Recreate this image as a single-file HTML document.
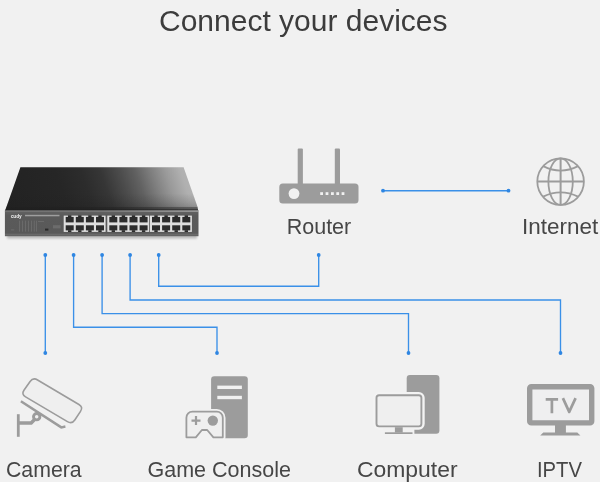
<!DOCTYPE html>
<html>
<head>
<meta charset="utf-8">
<title>Connect your devices</title>
<style>
html,body{margin:0;padding:0;}
body{width:600px;height:482px;overflow:hidden;background:#f1f1f1;font-family:"Liberation Sans",sans-serif;position:relative;}
#stage{position:absolute;left:0;top:0;width:600px;height:482px;overflow:hidden;background:#f1f1f1;filter:blur(0.45px);}
.t{position:absolute;white-space:nowrap;color:#464646;line-height:1;transform-origin:0 0;}
#title{left:159px;top:5.6px;font-size:30px;color:#3c3c3c;}
.lbl{font-size:21.5px;}
svg{position:absolute;left:0;top:0;}
</style>
</head>
<body>
<div id="stage">
<svg id="art" width="600" height="482" viewBox="0 0 600 482">
  <defs>
    <linearGradient id="topg" gradientUnits="userSpaceOnUse" x1="5" y1="210" x2="195" y2="143.5">
      <stop offset="0" stop-color="#222"/>
      <stop offset="0.3" stop-color="#262626"/>
      <stop offset="0.42" stop-color="#2c2c2c"/>
      <stop offset="0.511" stop-color="#363636"/>
      <stop offset="0.605" stop-color="#4d4d4d"/>
      <stop offset="0.675" stop-color="#616161"/>
      <stop offset="0.745" stop-color="#7e7e7e"/>
      <stop offset="0.816" stop-color="#9a9a9a"/>
      <stop offset="0.886" stop-color="#b0b0b0"/>
      <stop offset="0.93" stop-color="#b4b4b4"/>
      <stop offset="1" stop-color="#b0b0b0"/>
    </linearGradient>
    <linearGradient id="topv" gradientUnits="userSpaceOnUse" x1="0" y1="167.4" x2="0" y2="210.8">
      <stop offset="0" stop-color="#1e1e1e" stop-opacity="0"/>
      <stop offset="0.6" stop-color="#1e1e1e" stop-opacity="0"/>
      <stop offset="0.8" stop-color="#1e1e1e" stop-opacity="0.13"/>
      <stop offset="0.9" stop-color="#1e1e1e" stop-opacity="0.22"/>
      <stop offset="0.915" stop-color="#1e1e1e" stop-opacity="0.55"/>
      <stop offset="0.96" stop-color="#1e1e1e" stop-opacity="0.6"/>
      <stop offset="0.975" stop-color="#1e1e1e" stop-opacity="0.88"/>
      <stop offset="1" stop-color="#1e1e1e" stop-opacity="0.88"/>
    </linearGradient>
    <linearGradient id="fronth" gradientUnits="userSpaceOnUse" x1="5" y1="0" x2="198" y2="0">
      <stop offset="0" stop-color="#747474"/>
      <stop offset="0.5" stop-color="#7c7c7c"/>
      <stop offset="0.8" stop-color="#a0a0a0"/>
      <stop offset="1" stop-color="#b0b0b0"/>
    </linearGradient>
    <linearGradient id="frontg" x1="0" y1="0" x2="0" y2="1">
      <stop offset="0" stop-color="#7a7a7a"/>
      <stop offset="0.07" stop-color="#606060"/>
      <stop offset="0.2" stop-color="#5a5a5a"/>
      <stop offset="0.88" stop-color="#595959"/>
      <stop offset="0.93" stop-color="#6a6a6a"/>
      <stop offset="1" stop-color="#5e5e5e"/>
    </linearGradient>
    <filter id="blur1" x="-10%" y="-50%" width="120%" height="200%"><feGaussianBlur stdDeviation="1.2"/></filter>
  </defs>

  <!-- connection lines -->
  <g fill="none" stroke="#3a90e8" stroke-width="1.35" stroke-linejoin="miter">
    <path d="M45.3 255V353"/>
    <path d="M73.6 255V327.2H217V353"/>
    <path d="M102.1 255V313.6H408.5V353"/>
    <path d="M130.1 255V300H560.5V353"/>
    <path d="M158.7 255V286.2H318.7V255"/>
    <path d="M383 190.7H508.5"/>
  </g>
  <g fill="#2f86e2">
    <circle cx="45.3" cy="255" r="1.9"/><circle cx="73.6" cy="255" r="1.9"/><circle cx="102.1" cy="255" r="1.9"/><circle cx="130.1" cy="255" r="1.9"/><circle cx="158.7" cy="255" r="1.9"/>
    <circle cx="318.7" cy="255" r="1.9"/>
    <circle cx="45.3" cy="353" r="1.9"/><circle cx="217" cy="353" r="1.9"/><circle cx="408.5" cy="353" r="1.9"/><circle cx="560.5" cy="353" r="1.9"/>
    <circle cx="383" cy="190.7" r="1.9"/><circle cx="508.5" cy="190.7" r="1.9"/>
  </g>

  <!-- switch -->
  <g id="switch">
    <rect x="7" y="234" width="190" height="4.6" fill="#000" opacity="0.22" filter="url(#blur1)"/>
    <path d="M20.4 167.3H183.6L197.4 206.6L198.3 211H5Z" fill="url(#topg)"/>
    <path d="M20.4 167.3H183.6L197.4 206.6L198.3 211H5Z" fill="url(#topv)"/>
    <rect x="4.9" y="210.6" width="193.6" height="25.6" fill="url(#frontg)"/>
    <rect x="4.9" y="210.5" width="193.6" height="1.1" fill="url(#fronth)"/>
    <g id="ports">
    <rect x="63.7" y="215.6" width="41.9" height="16.3" fill="#dedede"/>
    <rect x="65.70" y="216.9" width="8.0" height="5.5" fill="#2c2c2c"/>
    <rect x="68.00" y="215.3" width="3.4" height="2" fill="#2c2c2c"/>
    <rect x="65.70" y="225.3" width="8.0" height="5.1" fill="#2c2c2c"/>
    <rect x="68.00" y="230.2" width="3.4" height="1.8" fill="#2c2c2c"/>
    <rect x="75.80" y="216.9" width="8.0" height="5.5" fill="#2c2c2c"/>
    <rect x="78.10" y="215.3" width="3.4" height="2" fill="#2c2c2c"/>
    <rect x="75.80" y="225.3" width="8.0" height="5.1" fill="#2c2c2c"/>
    <rect x="78.10" y="230.2" width="3.4" height="1.8" fill="#2c2c2c"/>
    <rect x="85.90" y="216.9" width="8.0" height="5.5" fill="#2c2c2c"/>
    <rect x="88.20" y="215.3" width="3.4" height="2" fill="#2c2c2c"/>
    <rect x="85.90" y="225.3" width="8.0" height="5.1" fill="#2c2c2c"/>
    <rect x="88.20" y="230.2" width="3.4" height="1.8" fill="#2c2c2c"/>
    <rect x="96.00" y="216.9" width="8.0" height="5.5" fill="#2c2c2c"/>
    <rect x="98.30" y="215.3" width="3.4" height="2" fill="#2c2c2c"/>
    <rect x="96.00" y="225.3" width="8.0" height="5.1" fill="#2c2c2c"/>
    <rect x="98.30" y="230.2" width="3.4" height="1.8" fill="#2c2c2c"/>
    <rect x="107.3" y="215.6" width="41.9" height="16.3" fill="#dedede"/>
    <rect x="109.30" y="216.9" width="8.0" height="5.5" fill="#2c2c2c"/>
    <rect x="111.60" y="215.3" width="3.4" height="2" fill="#2c2c2c"/>
    <rect x="109.30" y="225.3" width="8.0" height="5.1" fill="#2c2c2c"/>
    <rect x="111.60" y="230.2" width="3.4" height="1.8" fill="#2c2c2c"/>
    <rect x="119.40" y="216.9" width="8.0" height="5.5" fill="#2c2c2c"/>
    <rect x="121.70" y="215.3" width="3.4" height="2" fill="#2c2c2c"/>
    <rect x="119.40" y="225.3" width="8.0" height="5.1" fill="#2c2c2c"/>
    <rect x="121.70" y="230.2" width="3.4" height="1.8" fill="#2c2c2c"/>
    <rect x="129.50" y="216.9" width="8.0" height="5.5" fill="#2c2c2c"/>
    <rect x="131.80" y="215.3" width="3.4" height="2" fill="#2c2c2c"/>
    <rect x="129.50" y="225.3" width="8.0" height="5.1" fill="#2c2c2c"/>
    <rect x="131.80" y="230.2" width="3.4" height="1.8" fill="#2c2c2c"/>
    <rect x="139.60" y="216.9" width="8.0" height="5.5" fill="#2c2c2c"/>
    <rect x="141.90" y="215.3" width="3.4" height="2" fill="#2c2c2c"/>
    <rect x="139.60" y="225.3" width="8.0" height="5.1" fill="#2c2c2c"/>
    <rect x="141.90" y="230.2" width="3.4" height="1.8" fill="#2c2c2c"/>
    <rect x="150.0" y="215.6" width="41.9" height="16.3" fill="#dedede"/>
    <rect x="152.00" y="216.9" width="8.0" height="5.5" fill="#2c2c2c"/>
    <rect x="154.30" y="215.3" width="3.4" height="2" fill="#2c2c2c"/>
    <rect x="152.00" y="225.3" width="8.0" height="5.1" fill="#2c2c2c"/>
    <rect x="154.30" y="230.2" width="3.4" height="1.8" fill="#2c2c2c"/>
    <rect x="162.10" y="216.9" width="8.0" height="5.5" fill="#2c2c2c"/>
    <rect x="164.40" y="215.3" width="3.4" height="2" fill="#2c2c2c"/>
    <rect x="162.10" y="225.3" width="8.0" height="5.1" fill="#2c2c2c"/>
    <rect x="164.40" y="230.2" width="3.4" height="1.8" fill="#2c2c2c"/>
    <rect x="172.20" y="216.9" width="8.0" height="5.5" fill="#2c2c2c"/>
    <rect x="174.50" y="215.3" width="3.4" height="2" fill="#2c2c2c"/>
    <rect x="172.20" y="225.3" width="8.0" height="5.1" fill="#2c2c2c"/>
    <rect x="174.50" y="230.2" width="3.4" height="1.8" fill="#2c2c2c"/>
    <rect x="182.30" y="216.9" width="8.0" height="5.5" fill="#2c2c2c"/>
    <rect x="184.60" y="215.3" width="3.4" height="2" fill="#2c2c2c"/>
    <rect x="182.30" y="225.3" width="8.0" height="5.1" fill="#2c2c2c"/>
    <rect x="184.60" y="230.2" width="3.4" height="1.8" fill="#2c2c2c"/>
    </g>
    <!-- logo + tiny text -->
    <text x="10.8" y="218.4" font-family="Liberation Sans, sans-serif" font-size="4.8" font-weight="bold" fill="#f0f0f0" letter-spacing="-0.1">cudy</text>
    <rect x="25" y="214.8" width="34.5" height="1.5" fill="#b5b5b5" opacity="0.75"/>
    <g fill="#7c7c7c" opacity="0.55">
      <rect x="19" y="220.6" width="0.9" height="11"/><rect x="22" y="220.6" width="0.9" height="11"/><rect x="25" y="220.6" width="0.9" height="11"/><rect x="28" y="220.6" width="0.9" height="11"/><rect x="31" y="220.6" width="0.9" height="11"/><rect x="33.8" y="220.6" width="0.9" height="11"/><rect x="36" y="220.6" width="0.9" height="11"/>
      <rect x="11" y="229.4" width="3.2" height="1"/>
      <rect x="53" y="225.2" width="7.6" height="3.2"/>
      <rect x="38" y="221" width="6" height="0.9"/>
    </g>
    <rect x="45" y="228.6" width="3.4" height="2" fill="#2a2a2a"/>
  </g>

  <!-- router -->
  <g fill="#9c9c9c">
    <rect x="297.7" y="148.5" width="5.2" height="37" rx="1"/>
    <rect x="334.8" y="148.5" width="5.2" height="37" rx="1"/>
    <rect x="279.3" y="183.6" width="79.2" height="19.8" rx="3.5"/>
  </g>
  <circle cx="294" cy="193.6" r="5.4" fill="#f1f1f1"/>
  <g fill="#f1f1f1">
    <rect x="320.2" y="192.2" width="2.8" height="2.8"/><rect x="325.6" y="192.2" width="2.8" height="2.8"/><rect x="331" y="192.2" width="2.8" height="2.8"/><rect x="336.3" y="192.2" width="2.8" height="2.8"/><rect x="341.6" y="192.2" width="2.8" height="2.8"/>
  </g>

  <!-- globe -->
  <g fill="none" stroke="#9c9c9c" stroke-width="1.8">
    <circle cx="560.6" cy="181.6" r="23.3"/>
    <ellipse cx="560.6" cy="181.6" rx="12.2" ry="23.3"/>
    <path d="M560.6 158.3V204.9M537.3 181.5H583.9" stroke-width="2"/>
    <path d="M543.2 166.1Q560.6 175 578 166.1"/>
    <path d="M543.2 196.6Q560.6 188 578 196.6"/>
  </g>

  <!-- camera -->
  <g fill="none" stroke="#9c9c9c">
    <path d="M18.3 414.2V436.8" stroke-width="2.8"/>
    <path d="M19 422.9H31.2L35.5 418.6" stroke-width="3.5" stroke-linejoin="round"/>
    <circle cx="36.7" cy="416.7" r="3.2" stroke-width="2.9" fill="#f1f1f1"/>
    <path d="M30.09 381.54Q33.10 377.30 37.57 379.95L78.93 404.45Q83.40 407.10 80.51 411.42L74.79 419.98Q71.90 424.30 67.43 421.65L25.57 396.85Q21.10 394.20 24.11 389.96Z" fill="#efefef" stroke-width="1.6"/>
    <path d="M20.9 401.2L61.3 427.4L65.4 426.6" stroke-width="2.5" stroke-linejoin="miter"/>
  </g>

  <!-- game console -->
  <rect x="211.1" y="376.2" width="36.7" height="62" rx="3.2" fill="#9c9c9c"/>
  <rect x="217.3" y="385.6" width="24.6" height="3.4" fill="#f1f1f1"/>
  <rect x="217.3" y="395.8" width="24.6" height="3.4" fill="#f1f1f1"/>
  <path id="pad" d="M192.4 411.7H216.8a6 6 0 0 1 6 6V437.3H213.4L207.2 430H201.9L195.8 437.3H186.4V417.7a6 6 0 0 1 6 -6Z" fill="#efefef" stroke="#f1f1f1" stroke-width="5.4" stroke-linejoin="round"/>
  <path d="M192.4 411.7H216.8a6 6 0 0 1 6 6V437.3H213.4L207.2 430H201.9L195.8 437.3H186.4V417.7a6 6 0 0 1 6 -6Z" fill="#efefef" stroke="#9c9c9c" stroke-width="1.8" stroke-linejoin="round"/>
  <path d="M191.5 420.6H200.5M196 416.1V425.1" stroke="#9c9c9c" stroke-width="2.2" fill="none"/>
  <circle cx="212.8" cy="420.6" r="5.2" fill="#9c9c9c"/>

  <!-- computer -->
  <rect x="406.7" y="375.1" width="32.7" height="58.6" rx="3.2" fill="#9c9c9c"/>
  <rect x="376.5" y="395.2" width="44.9" height="31.2" rx="2.6" fill="#efefef" stroke="#f3f3f3" stroke-width="6.6"/>
  <rect x="376.5" y="395.2" width="44.9" height="31.2" rx="2.6" fill="#efefef" stroke="#9c9c9c" stroke-width="1.9"/>
  <rect x="383.4" y="428" width="31" height="6.8" fill="#f1f1f1"/>
  <rect x="394.9" y="427.2" width="7.8" height="5.4" fill="#9c9c9c"/>
  <rect x="384.9" y="432.3" width="27.6" height="1.7" fill="#9c9c9c"/>

  <!-- tv -->
  <rect x="529.7" y="386.7" width="62" height="36.2" rx="1.6" fill="#efeff0" stroke="#9c9c9c" stroke-width="5.4" stroke-linejoin="round"/>
  <path d="M545.7 399.3H558.1M551.9 399.3V413.2M562.9 398.1L569.2 411.9L575.6 398.1" fill="none" stroke="#9c9c9c" stroke-width="2.7" stroke-linejoin="round"/>
  <rect x="555" y="425" width="10.9" height="8.4" fill="#9c9c9c"/>
  <path d="M543.3 432.6H577.3L580.4 435.4H540.2Z" fill="#9c9c9c"/>
</svg>

<div class="t" id="title">Connect your devices</div>
<div class="t lbl" id="l-router" style="left:286.7px;top:217px;">Router</div>
<div class="t lbl" id="l-internet" style="left:522.4px;top:217px;transform:scaleX(1.045);">Internet</div>
<div class="t lbl" id="l-camera" style="left:5.8px;top:460px;transform:scaleX(0.99);">Camera</div>
<div class="t lbl" id="l-game" style="left:147.5px;top:460px;">Game Console</div>
<div class="t lbl" id="l-computer" style="left:356.6px;top:460px;transform:scaleX(1.065);">Computer</div>
<div class="t lbl" id="l-iptv" style="left:537.3px;top:460px;transform:scaleX(0.94);">IPTV</div>
</div>
</body>
</html>
